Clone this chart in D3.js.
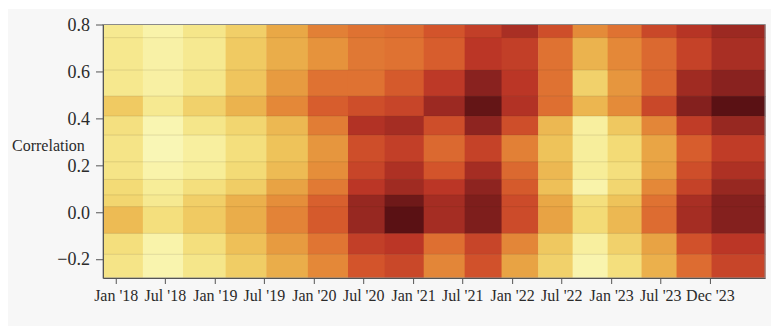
<!DOCTYPE html>
<html>
<head>
<meta charset="utf-8">
<script src="https://cdn.jsdelivr.net/npm/d3@7"></script>
<style>
    html, body { margin: 0; padding: 0; background: #fff; }
    svg { display: block; }
</style>
</head>
<body>
<svg id="chart"></svg>
<script>
// rolling windows: edges of each column (last entry closes the final window)
const windowEdges = [
    "2017-11-15", "2018-04-11", "2018-09-06", "2019-02-10", "2019-07-10",
    "2019-12-10", "2020-05-06", "2020-09-18", "2021-02-09", "2021-07-10",
    "2021-11-23", "2022-04-07", "2022-08-12", "2022-12-19", "2023-04-23",
    "2023-08-30", "2024-01-06", "2024-07-21"
]

// correlation bins, top to bottom
const corrEdges = [0.8, 0.744, 0.606, 0.495, 0.41, 0.329, 0.215, 0.14, 0.074, 0.024, -0.09, -0.179, -0.28]

const tickDates = [
    "2018-01-01", "2018-07-01", "2019-01-01", "2019-07-01", "2020-01-01", "2020-07-01",
    "2021-01-01", "2021-07-01", "2022-01-01", "2022-07-01", "2023-01-01", "2023-07-01", "2023-12-31"
]
const yTicks = [-0.2, 0, 0.2, 0.4, 0.6, 0.8]

// density per window (one row per column, bins top to bottom)
const density = [
    [0.12, 0.13, 0.13, 0.27, 0.17, 0.15, 0.15, 0.20, 0.22, 0.33, 0.18, 0.15],
    [0.05, 0.06, 0.07, 0.12, 0.03, 0.02, 0.05, 0.10, 0.12, 0.18, 0.05, 0.04],
    [0.14, 0.12, 0.14, 0.24, 0.14, 0.08, 0.10, 0.18, 0.25, 0.27, 0.18, 0.14],
    [0.25, 0.27, 0.29, 0.36, 0.22, 0.18, 0.20, 0.26, 0.37, 0.38, 0.31, 0.26],
    [0.40, 0.38, 0.45, 0.52, 0.34, 0.30, 0.33, 0.42, 0.50, 0.54, 0.45, 0.38],
    [0.55, 0.48, 0.60, 0.67, 0.56, 0.47, 0.50, 0.57, 0.66, 0.68, 0.59, 0.52],
    [0.60, 0.58, 0.60, 0.72, 0.82, 0.72, 0.75, 0.80, 0.88, 0.88, 0.77, 0.70],
    [0.62, 0.60, 0.68, 0.75, 0.85, 0.77, 0.83, 0.86, 0.96, 1.00, 0.80, 0.74],
    [0.70, 0.67, 0.79, 0.87, 0.72, 0.63, 0.70, 0.80, 0.85, 0.85, 0.61, 0.53],
    [0.77, 0.80, 0.91, 0.98, 0.90, 0.76, 0.85, 0.90, 0.93, 0.93, 0.75, 0.71],
    [0.84, 0.77, 0.80, 0.82, 0.72, 0.55, 0.63, 0.68, 0.73, 0.73, 0.53, 0.42],
    [0.72, 0.60, 0.60, 0.61, 0.34, 0.30, 0.34, 0.31, 0.40, 0.42, 0.28, 0.24],
    [0.51, 0.36, 0.24, 0.35, 0.08, 0.09, 0.10, 0.05, 0.18, 0.20, 0.08, 0.04],
    [0.60, 0.52, 0.47, 0.51, 0.28, 0.20, 0.18, 0.22, 0.30, 0.34, 0.24, 0.18],
    [0.74, 0.63, 0.64, 0.74, 0.53, 0.41, 0.43, 0.52, 0.60, 0.62, 0.42, 0.37],
    [0.81, 0.76, 0.86, 0.92, 0.78, 0.67, 0.72, 0.76, 0.84, 0.85, 0.71, 0.62],
    [0.87, 0.84, 0.91, 1.00, 0.88, 0.78, 0.83, 0.88, 0.92, 0.92, 0.80, 0.75]
]

const colorStops = ["#faf8bc", "#f7ed98", "#f3db76", "#eec35a", "#e9a846", "#e58e3a",
                    "#df7232", "#d3542b", "#bb3626", "#8e2420", "#5a1114"]

const FONT = "'Liberation Serif', 'Times New Roman', Times, serif"
const W = 773, H = 326
const margin = { top: 24.5, right: 8, bottom: 48, left: 103 }
const width = W - margin.left - margin.right
const height = H - margin.top - margin.bottom

const parse = d3.utcParse("%Y-%m-%d")
const edges = windowEdges.map(parse)

const svg = d3.select("#chart").attr("width", W).attr("height", H)

// light panel behind the figure
svg.append("rect")
    .attr("x", 8).attr("y", 9)
    .attr("width", W - 10).attr("height", H - 9)
    .attr("fill", "#f7f7f7")

const g = svg.append("g").attr("transform", `translate(${margin.left},${margin.top})`)

const x = d3.scaleUtc().domain([edges[0], edges[edges.length - 1]]).range([0, width])
const y = d3.scaleLinear().domain([-0.28, 0.8]).range([height, 0])
const color = d3.scaleSequential(d3.piecewise(d3.interpolateRgb, colorStops)).domain([0, 1])

const cells = []
density.forEach((col, i) => {
    col.forEach((v, j) => {
        cells.push({ x0: edges[i], x1: edges[i + 1], hi: corrEdges[j], lo: corrEdges[j + 1], v: v })
    })
})

g.append("g")
    .selectAll("rect")
    .data(cells)
    .enter()
    .append("rect")
    .attr("x", d => x(d.x0))
    .attr("y", d => y(d.hi))
    .attr("width", d => x(d.x1) - x(d.x0) + 0.5)
    .attr("height", d => y(d.lo) - y(d.hi) + 0.5)
    .attr("fill", d => color(d.v))

// faint seams between bins
g.append("g")
    .selectAll("line")
    .data(corrEdges.slice(1, -1))
    .enter()
    .append("line")
    .attr("x1", 0).attr("x2", width)
    .attr("y1", d => y(d)).attr("y2", d => y(d))
    .attr("stroke", "rgba(60,40,20,0.12)")
    .attr("stroke-width", 1)

g.append("rect")
    .attr("width", width).attr("height", height)
    .attr("fill", "none")
    .attr("stroke", "#8a8a8a")
    .attr("stroke-width", 1)

const xAxis = g.append("g")
    .attr("transform", `translate(0,${height})`)
    .call(d3.axisBottom(x)
        .tickValues(tickDates.map(parse))
        .tickFormat(d3.utcFormat("%b '%y"))
        .tickSize(6).tickPadding(6).tickSizeOuter(0))
    .attr("font-family", FONT)
    .attr("font-size", 16)

const yAxis = g.append("g")
    .call(d3.axisLeft(y)
        .tickValues(yTicks)
        .tickFormat(d3.format(".1f"))
        .tickSize(7).tickPadding(6).tickSizeOuter(0))
    .attr("font-family", FONT)
    .attr("font-size", 18)

svg.selectAll(".domain, .tick line").attr("stroke", "#555")
svg.selectAll(".tick text").attr("fill", "#2b2b2b")

svg.append("text")
    .attr("x", 12)
    .attr("y", 151)
    .attr("font-family", FONT)
    .attr("font-size", 16)
    .attr("fill", "#2b2b2b")
    .text("Correlation")
</script>
</body>
</html>
